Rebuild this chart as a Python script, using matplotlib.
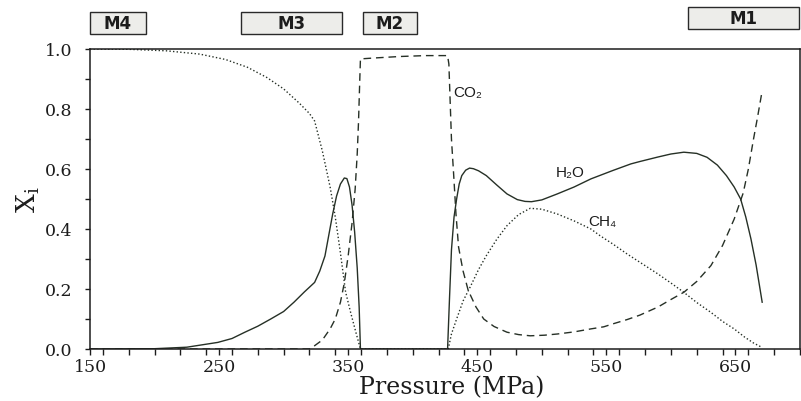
import matplotlib
matplotlib.use("Agg")
import matplotlib.pyplot as plt
from matplotlib.patches import Rectangle
from matplotlib.ticker import MultipleLocator, FixedLocator

# Mole fractions along the pressure path (MPa)
p_h2o = [150, 200, 225, 249, 260, 270, 280, 290, 300, 308, 316, 324, 328, 332,
         335, 338, 341, 344, 347, 349, 351, 353, 355, 357, 358.5, 359.5,
         427, 428.5, 430, 432, 434, 436, 438, 441, 444, 447, 451, 457, 465,
         473, 481, 487, 492, 500, 512, 525, 538, 555, 569, 576, 590, 600,
         610, 620, 628, 636, 643, 649, 654, 658, 662, 666, 670.7]
x_h2o = [0.0, 0.001, 0.006, 0.022, 0.035, 0.056, 0.076, 0.100, 0.125, 0.156,
         0.190, 0.222, 0.260, 0.310, 0.380, 0.450, 0.510, 0.550, 0.570, 0.568,
         0.540, 0.480, 0.390, 0.270, 0.140, 0.0,
         0.0, 0.170, 0.330, 0.440, 0.500, 0.550, 0.578, 0.596, 0.603, 0.601,
         0.594, 0.578, 0.547, 0.517, 0.498, 0.492, 0.491, 0.497, 0.517, 0.540,
         0.567, 0.595, 0.617, 0.625, 0.640, 0.650, 0.656, 0.652, 0.639, 0.613,
         0.578, 0.540, 0.500, 0.440, 0.367, 0.280, 0.156]

p_ch4 = [150, 180, 209, 235, 255, 272, 287, 300, 312, 320, 324, 327, 330, 333,
         336, 340, 344, 348, 352, 356, 359.5,
         427.5, 430, 434, 439, 445, 451, 457, 465, 473, 482, 491, 500, 512,
         525, 538, 545, 555, 566, 576, 590, 600, 610, 620, 631, 640, 649, 657,
         664, 670.7]
x_ch4 = [1.0, 0.999, 0.994, 0.983, 0.965, 0.939, 0.905, 0.867, 0.820, 0.785,
         0.760, 0.710, 0.660, 0.600, 0.540, 0.440, 0.320, 0.190, 0.120, 0.055,
         0.0,
         0.0, 0.050, 0.100, 0.160, 0.211, 0.265, 0.311, 0.365, 0.411, 0.448,
         0.469, 0.466, 0.450, 0.427, 0.400, 0.378, 0.350, 0.317, 0.289, 0.250,
         0.220, 0.189, 0.155, 0.122, 0.092, 0.067, 0.040, 0.020, 0.005]

p_co2 = [150, 320, 324, 330, 336, 340, 344, 347, 350, 353, 355.4, 357, 358,
         359, 359.5, 370, 390, 410, 427, 428, 430, 431.6, 433.5, 435.5, 439,
         443, 449, 455, 463, 473, 482, 491, 502, 512, 525, 538, 548, 556, 566,
         576, 590, 600, 610, 620, 631, 640, 649, 656, 660, 664, 667, 670.7]
x_co2 = [0.0, 0.0, 0.011, 0.030, 0.067, 0.100, 0.156, 0.220, 0.311, 0.420,
         0.533, 0.650, 0.756, 0.900, 0.967, 0.970, 0.975, 0.978, 0.978, 0.950,
         0.700, 0.589, 0.450, 0.340, 0.260, 0.195, 0.140, 0.100, 0.075, 0.056,
         0.048, 0.044, 0.046, 0.050, 0.057, 0.067, 0.074, 0.085, 0.098, 0.113,
         0.140, 0.165, 0.189, 0.225, 0.278, 0.345, 0.433, 0.520, 0.600, 0.700,
         0.770, 0.861]

# Phase regions shown above the plot: (name, start MPa, end MPa)
regions = [("M4", 150.0, 193.4), ("M3", 267.0, 345.3),
           ("M2", 361.4, 403.2), ("M1", 613.6, 699.5)]

# Species labels placed next to the curves: (text, MPa, mole fraction)
species_labels = [("CO₂", 431.4, 0.857), ("H₂O", 510.5, 0.59),
                  ("CH₄", 536.0, 0.427)]

line_color = "#263026"
ink = "#1c1c1c"

plt.rcParams["mathtext.fontset"] = "dejavuserif"
serif = ["DejaVu Serif"]
sans = ["Liberation Sans", "DejaVu Sans"]

fig = plt.figure(figsize=(8.01, 4.02), dpi=100)
ax = fig.add_axes([90 / 801, 52 / 402, 710 / 801, 300 / 402])

ax.plot(p_h2o, x_h2o, color=line_color, lw=1.0, ls="-")
ax.plot(p_ch4, x_ch4, color=line_color, lw=1.0, ls=(0, (1.0, 1.6)))
ax.plot(p_co2, x_co2, color=line_color, lw=1.0, ls=(0, (5.5, 3.5)))

ax.set_xlim(150, 700)
ax.set_ylim(0, 1.0)

ax.xaxis.set_major_locator(FixedLocator([150, 250, 350, 450, 550, 650]))
ax.xaxis.set_minor_locator(MultipleLocator(20))
ax.yaxis.set_major_locator(MultipleLocator(0.2))
ax.yaxis.set_minor_locator(MultipleLocator(0.1))
ax.yaxis.set_major_formatter(matplotlib.ticker.FormatStrFormatter("%.1f"))

ax.tick_params(axis="both", which="both", direction="out", color=ink,
               width=1.0, top=False, right=False)
ax.tick_params(axis="x", which="both", length=4.5, pad=2.0)
ax.tick_params(axis="y", which="both", length=3.5, pad=9)
for lab in ax.get_xticklabels() + ax.get_yticklabels():
    lab.set_family(serif)
    lab.set_fontsize(12.5)
    lab.set_color(ink)

for s in ax.spines.values():
    s.set_color(ink)
    s.set_linewidth(1.1)

ax.set_xlabel("Pressure (MPa)", family=serif, fontsize=17, color=ink)
ax.xaxis.set_label_coords(0.51, -0.148)
ax.xaxis.label.set_va("baseline")
ax.set_ylabel(r"$\mathrm{X}_\mathrm{i}$", family=serif, fontsize=19,
              color=ink, labelpad=2)

for text, px, val in species_labels:
    ax.text(px, val, text, family=sans, fontsize=11, color=ink,
            ha="left", va="center")

trans = ax.get_xaxis_transform()
for name, x0, x1 in regions:
    y0 = 1.05 if name != "M1" else 1.067
    h = 0.073
    ax.add_patch(Rectangle((x0, y0), x1 - x0, h, transform=trans,
                           facecolor="#ededea", edgecolor="#2a2a2a",
                           lw=1.0, clip_on=False))
    ax.text((x0 + x1) / 2, y0 + h / 2, name, transform=trans,
            ha="center", va="center", fontsize=12, fontweight="bold",
            family=["DejaVu Sans"], color=ink, clip_on=False)

fig.savefig("out.png", dpi=100, facecolor="white")
